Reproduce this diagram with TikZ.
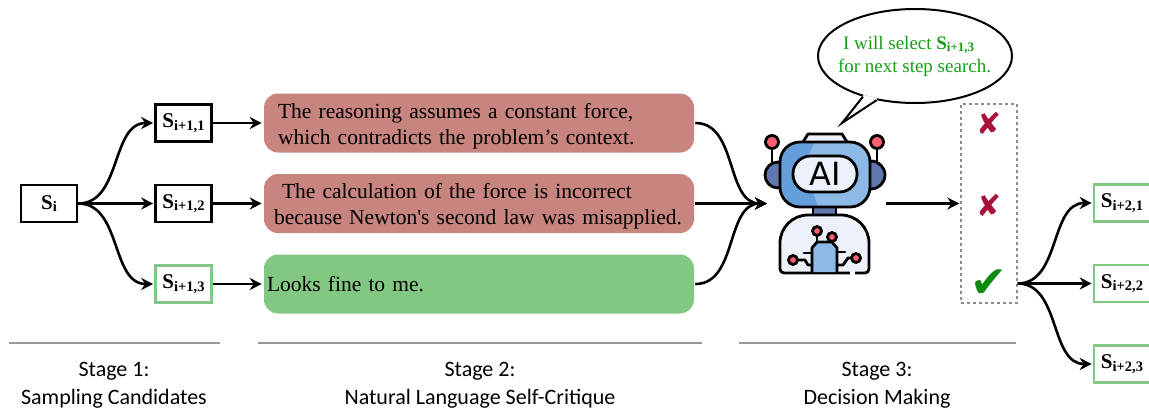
\documentclass[tikz,border=0pt]{standalone}
\usepackage{fontspec}
\setmainfont{Liberation Serif}[Ligatures=TeXOff]
\newfontfamily\stagefont{Carlito}
\newfontfamily\symbfont{DejaVu Sans}
\usetikzlibrary{positioning}
\usetikzlibrary{arrows.meta}
\usetikzlibrary{shapes.geometric}

\definecolor{softgreen}{HTML}{82C882}
\definecolor{softred}{HTML}{C8847F}
\definecolor{markred}{HTML}{A8123A}
\definecolor{markgreen}{HTML}{0E8A12}
\definecolor{speechgreen}{HTML}{16A016}
\definecolor{headblue}{HTML}{8DB9E6}
\definecolor{headdark}{HTML}{659FDB}
\definecolor{earblue}{HTML}{5F78B0}
\definecolor{palebody}{HTML}{EDF1FA}
\definecolor{lampred}{HTML}{FF5F70}

\newcommand{\statename}[1]{\textbf{\fontsize{21}{21}\selectfont S\raisebox{-2.5pt}{\fontsize{14.5}{14.5}\selectfont #1}}}
\newcommand{\textdrop}{\endgraf\vspace*{-6pt}}

\begin{document}
\begin{tikzpicture}[x=1pt,y=-1pt,>={Stealth[length=12pt,width=12pt]},shorten >=1pt,
                line width=2.6pt,node distance=80.5pt,
                state node/.style={draw,line width=2.6pt,minimum width=56pt,minimum height=37pt,inner sep=0pt},
                good node/.style={state node,draw=softgreen},
                critique node/.style={rounded corners=14pt,minimum width=430pt,minimum height=59pt,
                   inner xsep=6pt,inner ysep=0pt,text width=418pt,align=left,
                   execute at end node=\textdrop,
                   font=\fontsize{21.5}{26}\selectfont},
                stage rule/.style={draw=black!40!white,line width=1.3pt,shorten >=0pt},
                stage node/.style={align=center,font=\stagefont\fontsize{22}{28}\selectfont},
                mark node/.style={font=\symbfont\fontsize{30}{30}\selectfont,inner sep=0pt},
                robot line/.style={line width=2.8pt,line cap=round,line join=round,shorten >=0pt}]

  \useasboundingbox (0,0) rectangle (1149,408);

  % stage 1
  \node[state node] (s11) at (183.5,123) {\statename{i+1,1}};
  \node[state node] (s12) [below of=s11] {\statename{i+1,2}};
  \node[good node]  (s13) [below of=s12] {\statename{i+1,3}};
  \node[state node] (si)  [left of=s12,node distance=134.5pt] {\statename{i}};

  % stage 2
  \node[critique node,fill=softred] (c1) [right of=s11,node distance=295.5pt] {\hspace*{8pt}The reasoning assumes a constant force,\\\hspace*{8pt}which contradicts the problem’s context.};
  \node[critique node,fill=softred] (c2) [below of=c1] {\hspace*{12pt}The calculation of the force is incorrect\\\hspace*{4pt}because Newton's second law was misapplied.};
  \node[critique node,fill=softgreen] (c3) [below of=c2] {\hspace*{-3pt}Looks fine to me.};

  % robot
  \coordinate (robotin) at (768,203.5);
  \coordinate (robotout) at (886,203.5);
  \filldraw[robot line,fill=earblue] (778,175) circle (13);
  \filldraw[robot line,fill=earblue] (871,175) circle (14);
  \draw[robot line] (772,149) -- (772,162);
  \draw[robot line] (877,149) -- (877,162);
  \filldraw[robot line,fill=lampred] (772,142) circle (6.5);
  \filldraw[robot line,fill=lampred] (877,142) circle (6.5);
  \filldraw[robot line,fill=palebody] (803,142) -- (808,134) -- (842,134) -- (847,142);
  \filldraw[robot line,fill=earblue] (813,206) rectangle (836,217);
  \filldraw[robot line,fill=palebody] (815,273) [rounded corners=4pt] -- (780,273) [rounded corners=28pt] -- (780,215) -- (869,215) [rounded corners=4pt] -- (869,273) -- cycle;
  \fill[headblue,rounded corners=20pt] (780,142) rectangle (870,207);
  \begin{scope}
    \clip[rounded corners=20pt] (780,142) rectangle (870,207);
    \fill[headdark] (780,142) -- (815,142) -- (803,165) -- (818,207) -- (780,207) -- cycle;
  \end{scope}
  \draw[robot line,rounded corners=20pt] (780,142) rectangle (870,207);
  \filldraw[robot line,fill=palebody,rounded corners=17.5pt] (793,156) rectangle (857,192);
  \node[inner sep=0pt,font=\symbfont\fontsize{32}{32}\selectfont] (ailabel) at (825,174) {AI};
  \draw[white,line width=3.4pt,shorten >=0pt] (850,273) -- (855,273);
  \filldraw[robot line,fill=headblue] (812,272) -- (812,248) -- (817,242) -- (832,242) -- (837,248) -- (837,272);
  \draw[robot line] (817,242) -- (817,236);
  \draw[robot line] (804,253) -- (812,253);
  \draw[robot line] (798,260) -- (805,260) -- (808,265) -- (812,265);
  \draw[robot line] (837,252) -- (845,252);
  \draw[robot line] (837,265) -- (843,265) -- (848,258) -- (852,258);
  \filldraw[robot line,fill=lampred] (817,231) circle (4.5);
  \filldraw[robot line,fill=lampred] (832,237) circle (4.5);
  \filldraw[robot line,fill=lampred] (793,260) circle (4.5);
  \filldraw[robot line,fill=lampred] (856,258) circle (4.5);

  % speech bubble
  \node[draw,ellipse,fill=white,line width=2pt,minimum width=194pt,minimum height=94pt,inner sep=0pt] (bubble) at (915,56) {};
  \coordinate (tailtip) at (842,123);
  \draw[white,line width=4pt,shorten >=0pt] (bubble.218) -- (bubble.229);
  \draw[line width=2pt,line join=miter,shorten >=0pt] (bubble.218) -- (tailtip) -- (bubble.229);
  \node[text=speechgreen,align=left,inner sep=0pt,font=\fontsize{19}{23}\selectfont] (speech) at (914.5,56)
     {\hspace*{5pt}I will select \textbf{\fontsize{19}{19}\selectfont S\raisebox{-2pt}{\fontsize{13}{13}\selectfont i+1,3}}\\for next step search.};

  % stage 3
  \node[draw=black!45!white,dashed,line width=1.2pt,minimum width=56pt,minimum height=199pt,inner sep=0pt] (marks) at (989,203.5) {};
  \node[mark node,text=markred]   (m1) at (989,123) {✘};
  \node[mark node,text=markred]   (m2) at (989,205) {✘};
  \node[mark node,text=markgreen,font=\symbfont\fontsize{44}{44}\selectfont] (m3) at (989,284) {✔};

  \node[good node] (s21) at (1122,203) {\statename{i+2,1}};
  \node[good node] (s22) [below of=s21] {\statename{i+2,2}};
  \node[good node] (s23) [below of=s22] {\statename{i+2,3}};

  \path[->]
    (si.east)  edge [out=0,in=180]  (s11.west)
    (si.east)  edge                 (s12.west)
    (si.east)  edge [out=0,in=180]  (s13.west)
    (s11.east) edge                 (c1.west)
    (s12.east) edge                 (c2.west)
    (s13.east) edge                 (c3.west)
    (c1.east)  edge [out=0,in=180]  (robotin)
    (c2.east)  edge                 (robotin)
    (c3.east)  edge [out=0,in=180]  (robotin)
    (robotout) edge                 (robotout -| marks.west)
    (marks.east |- s22) edge [out=0,in=180]  (s21.west)
    (marks.east |- s22) edge                 (s22.west)
    (marks.east |- s22) edge [out=0,in=180]  (s23.west);

  % stage labels
  \coordinate (r1a) at (9,343);
  \coordinate (r1b) at (220,343);
  \coordinate (r2a) at (258,343);
  \coordinate (r2b) at (702,343);
  \coordinate (r3a) at (739,343);
  \coordinate (r3b) at (1016,343);
  \draw[stage rule] (r1a) -- (r1b);
  \draw[stage rule] (r2a) -- (r2b);
  \draw[stage rule] (r3a) -- (r3b);
  \node[stage node] (stage1) at (114,385) {Stage 1:\\Sampling Candidates};
  \node[stage node] (stage2) at (480,385) {Stage 2:\\Natural Language Self-Critique};
  \node[stage node] (stage3) at (877,385) {Stage 3:\\Decision Making};

\end{tikzpicture}
\end{document}
